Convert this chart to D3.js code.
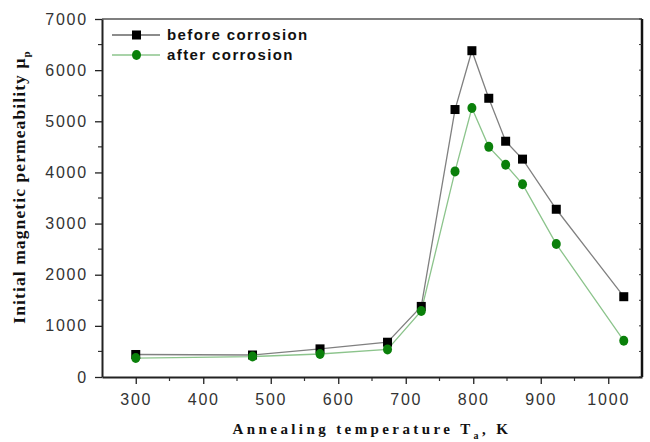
<!DOCTYPE html>
<html>
<head>
<meta charset="utf-8">
<script src="https://cdn.jsdelivr.net/npm/d3@7"></script>
<style>
  body { margin: 0; background: #fff; }
  .tick text { font-family: "Liberation Sans", Arial, sans-serif; font-size: 16px; letter-spacing: 1.8px; fill: #333; }
</style>
</head>
<body>
<div id="chart"></div>
<script>
// Annealing temperatures (K)
var temps = [300, 473, 573, 673, 723, 773, 798, 823, 848, 873, 923, 1023];
var beforeVals = [440, 430, 550, 680, 1380, 5230, 6380, 5450, 4610, 4260, 3280, 1570];
var afterVals = [370, 400, 450, 540, 1290, 4020, 5260, 4500, 4150, 3770, 2600, 710];
var xTicks = [300, 400, 500, 600, 700, 800, 900, 1000];
var yTicks = [0, 1000, 2000, 3000, 4000, 5000, 6000, 7000];

var svgWidth = 650;
var svgHeight = 442;

var margin = { top: 19, right: 8, bottom: 65, left: 102 };
var width = svgWidth - margin.left - margin.right;
var height = svgHeight - margin.top - margin.bottom;

var svg = d3.select("#chart")
  .append("svg")
  .attr("width", svgWidth)
  .attr("height", svgHeight);

var chartGroup = svg.append("g")
  .attr("transform", `translate(${margin.left}, ${margin.top})`);

var xScale = d3.scaleLinear().domain([250, 1050]).range([0, width]);
var yScale = d3.scaleLinear().domain([0, 7000]).range([height, 0]);

// frame (top and right)
chartGroup.append("line")
  .attr("x1", 0).attr("x2", width).attr("y1", 0).attr("y2", 0)
  .attr("stroke", "#555").attr("stroke-width", 1.5);
chartGroup.append("line")
  .attr("x1", width).attr("x2", width).attr("y1", 0).attr("y2", height)
  .attr("stroke", "#111").attr("stroke-width", 2.5);

// minor ticks
var xMinor = d3.range(350, 1050, 100);
var yMinor = d3.range(500, 7000, 1000);
chartGroup.selectAll(".xminor").data(xMinor).enter().append("line")
  .attr("x1", d => xScale(d)).attr("x2", d => xScale(d))
  .attr("y1", height).attr("y2", height + 4)
  .attr("stroke", "#333").attr("stroke-width", 1.2);
chartGroup.selectAll(".yminor").data(yMinor).enter().append("line")
  .attr("x1", -4).attr("x2", 0)
  .attr("y1", d => yScale(d)).attr("y2", d => yScale(d))
  .attr("stroke", "#333").attr("stroke-width", 1.2);
chartGroup.selectAll(".rtick").data(yTicks.concat(yMinor)).enter().append("line")
  .attr("x1", width - 3).attr("x2", width)
  .attr("y1", d => yScale(d)).attr("y2", d => yScale(d))
  .attr("stroke", "#333").attr("stroke-width", 1);

// axes
var bottomAxis = d3.axisBottom(xScale).tickValues(xTicks).tickFormat(d3.format("d"))
  .tickSize(7).tickPadding(6).tickSizeOuter(0);
var leftAxis = d3.axisLeft(yScale).tickValues(yTicks).tickFormat(d3.format("d"))
  .tickSize(7).tickPadding(7).tickSizeOuter(0);

var gx = chartGroup.append("g")
  .attr("transform", `translate(0, ${height})`)
  .call(bottomAxis);
var gy = chartGroup.append("g").call(leftAxis);
[gx, gy].forEach(function(g) {
  g.select(".domain").attr("stroke", "#222").attr("stroke-width", 2);
  g.selectAll(".tick line").attr("stroke", "#222").attr("stroke-width", 1.3);
});
gx.selectAll(".tick text").attr("dy", "0.95em");

// lines
var beforeData = temps.map((t, i) => ({ t: t, v: beforeVals[i] }));
var afterData = temps.map((t, i) => ({ t: t, v: afterVals[i] }));

var line = d3.line().x(d => xScale(d.t)).y(d => yScale(d.v));

chartGroup.append("path")
  .datum(beforeData)
  .attr("d", line)
  .attr("fill", "none")
  .attr("stroke", "#808080")
  .attr("stroke-width", 1.3);

chartGroup.append("path")
  .datum(afterData)
  .attr("d", line)
  .attr("fill", "none")
  .attr("stroke", "#8cc48c")
  .attr("stroke-width", 1.3);

chartGroup.selectAll(".sq")
  .data(beforeData)
  .enter()
  .append("rect")
  .attr("x", d => xScale(d.t) - 4.5)
  .attr("y", d => yScale(d.v) - 4.5)
  .attr("width", 9)
  .attr("height", 9)
  .attr("fill", "#000");

chartGroup.selectAll(".dot")
  .data(afterData)
  .enter()
  .append("ellipse")
  .attr("cx", d => xScale(d.t))
  .attr("cy", d => yScale(d.v))
  .attr("rx", 4.5)
  .attr("ry", 5)
  .attr("fill", "#0a800a");

// legend
var legend = svg.append("g");
var legendItems = [
  { label: "before corrosion", line: "#666", y: 35, shape: "sq" },
  { label: "after corrosion", line: "#8cc48c", y: 55, shape: "dot" }
];
legendItems.forEach(function(item) {
  legend.append("line")
    .attr("x1", 112).attr("x2", 160)
    .attr("y1", item.y).attr("y2", item.y)
    .attr("stroke", item.line).attr("stroke-width", 1.3);
  if (item.shape === "sq") {
    legend.append("rect")
      .attr("x", 132).attr("y", item.y - 4.5)
      .attr("width", 9).attr("height", 9)
      .attr("fill", "#000");
  } else {
    legend.append("ellipse")
      .attr("cx", 136.5).attr("cy", item.y)
      .attr("rx", 4.5).attr("ry", 5)
      .attr("fill", "#0a800a");
  }
  legend.append("text")
    .attr("x", 167).attr("y", item.y)
    .attr("dy", "0.35em")
    .style("font-family", "Liberation Sans, Arial, sans-serif")
    .style("font-weight", "bold")
    .style("font-size", "15px")
    .style("letter-spacing", "1.4px")
    .style("fill", "#111")
    .text(item.label);
});

// axis titles
var xTitle = svg.append("text")
  .attr("x", 372)
  .attr("y", 434)
  .style("font-family", "Liberation Serif, Times New Roman, serif")
  .style("font-weight", "bold")
  .style("font-size", "15px")
  .style("letter-spacing", "3.4px")
  .style("text-anchor", "middle")
  .style("fill", "#111");
xTitle.append("tspan").text("Annealing temperature T");
xTitle.append("tspan").attr("dy", 5).style("font-size", "10px").text("a");
xTitle.append("tspan").attr("dy", -5).text(", K");

var yTitle = svg.append("text")
  .attr("transform", "translate(25, 187) rotate(-90)")
  .style("font-family", "Liberation Serif, Times New Roman, serif")
  .style("font-weight", "bold")
  .style("font-size", "17.5px")
  .style("letter-spacing", "1.1px")
  .style("text-anchor", "middle")
  .style("fill", "#111");
yTitle.append("tspan").text("Initial magnetic permeability \u03bc");
yTitle.append("tspan").attr("dy", 5).style("font-size", "11px").text("p");
</script>
</body>
</html>
